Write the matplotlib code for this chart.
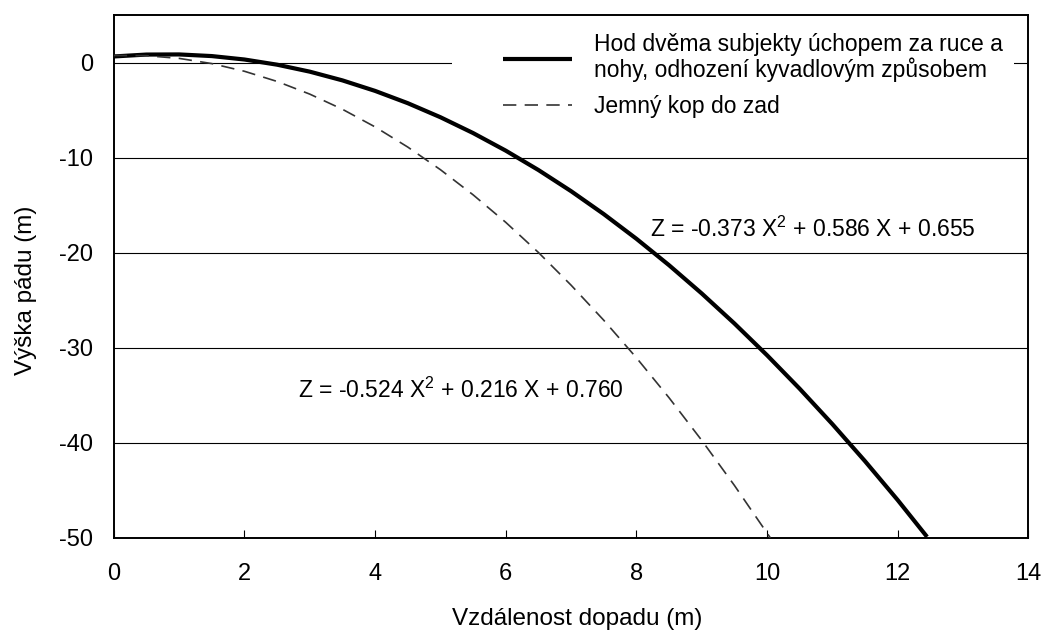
import matplotlib
matplotlib.use("Agg")
from matplotlib import pyplot as plt
from matplotlib.patches import Rectangle

plt.rcParams['font.family'] = ['Liberation Sans', 'DejaVu Sans']
plt.rcParams['axes.unicode_minus'] = False

# values
x_kyvadlo = [0, 0.5, 1, 1.5, 2, 2.5, 3, 3.5, 4, 4.5, 5, 5.5, 6, 6.5, 7, 7.5,
             8, 8.5, 9, 9.5, 10, 10.5, 11, 11.5, 12, 12.45]
z_kyvadlo = [0.655, 0.855, 0.868, 0.695, 0.335, -0.211, -0.944, -1.863, -2.969,
             -4.261, -5.74, -7.405, -9.257, -11.295, -13.52, -15.931, -18.529,
             -21.313, -24.284, -27.441, -30.785, -34.315, -38.032, -41.935,
             -46.025, -49.9]

x_kop = [0, 0.5, 1, 1.5, 2, 2.5, 3, 3.5, 4, 4.5, 5, 5.5, 6, 6.5, 7, 7.5,
         8, 8.5, 9, 9.5, 10.05]
z_kop = [0.76, 0.737, 0.452, -0.095, -0.904, -1.975, -3.308, -4.903, -6.76,
         -8.879, -11.26, -13.903, -16.8, -19.97, -23.41, -27.1, -31.05,
         -35.26, -39.74, -44.48, -50.0]

label_kyvadlo = "Hod dvěma subjekty úchopem za ruce a\nnohy, odhození kyvadlovým způsobem"
label_kop = "Jemný kop do zad"
eq_kyvadlo = "Z = -0.373 X$\\mathregular{^2}$ + 0.586 X + 0.655"
eq_kop = "Z = -0.524 X$\\mathregular{^2}$ + 0.216 X + 0.760"

xticks = [0, 2, 4, 6, 8, 10, 12, 14]
yticks = [0, -10, -20, -30, -40, -50]

fig = plt.figure(figsize=(10.44, 6.32), dpi=100)
ax = fig.add_axes([0.109, 0.149, 0.876, 0.827])

for y in yticks[:-1]:
    ax.axhline(y, color='black', lw=0.8, zorder=1)

# white box behind the legend (hides part of the zero line)
ax.add_patch(Rectangle((0.370, 0.80), 0.614, 0.18, transform=ax.transAxes,
                       facecolor='white', edgecolor='none', zorder=2))

ax.plot(x_kyvadlo, z_kyvadlo, color='black', lw=3.0, label=label_kyvadlo,
        solid_capstyle='butt', zorder=3)
ax.plot(x_kop, z_kop, color='#333333', lw=1.2, linestyle=(0, (8, 5)),
        label=label_kop, zorder=3)

ax.set_xlim(0, 14)
ax.set_ylim(-50, 5)
ax.set_xticks(xticks)
ax.set_yticks(yticks)
ax.tick_params(axis='x', direction='in', length=6, width=0.8, pad=18,
               labelsize=17)
ax.tick_params(axis='y', length=0, pad=15, labelsize=17)
for s in ax.spines.values():
    s.set_linewidth(1.4)

ax.set_xlabel("Vzdálenost dopadu (m)", fontsize=17.5)
ax.xaxis.set_label_coords(0.507, -0.134)
ax.set_ylabel("Výška pádu (m)", fontsize=17.5)
ax.yaxis.set_label_coords(-0.084, 0.474)

ax.text(8.21, -17.5, eq_kyvadlo, fontsize=16.5, va='center', ha='left')
ax.text(2.82, -34.5, eq_kop, fontsize=16.5, va='center', ha='left')

leg = ax.legend(loc='upper left', bbox_to_anchor=(0.4256, 0.965),
                borderaxespad=0, borderpad=0, fontsize=16.5,
                handlelength=3.0, handletextpad=0.95,
                labelspacing=0.57, frameon=False)
leg.set_zorder(4)
for t in leg.get_texts():
    t.set_linespacing(1.05)

fig.savefig("out.png", dpi=100)
